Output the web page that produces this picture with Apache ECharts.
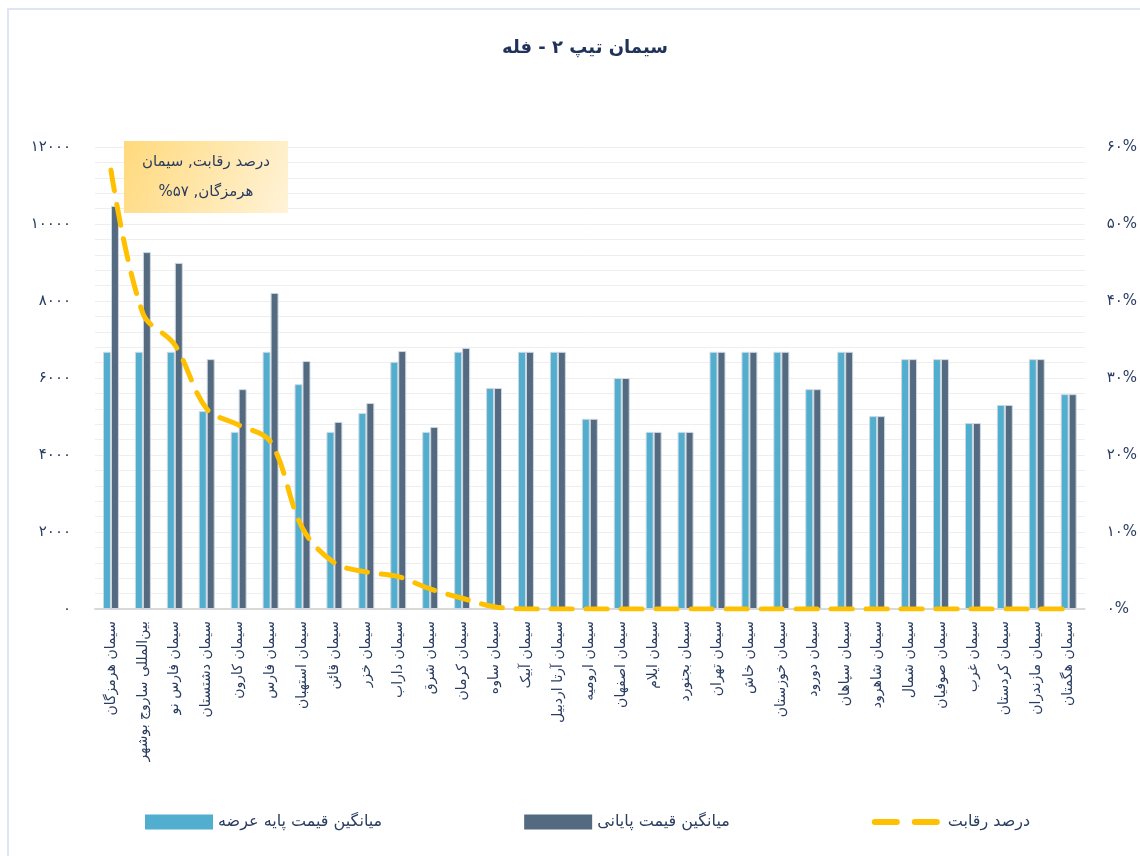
<!DOCTYPE html>
<html>
<head>
<meta charset="utf-8">
<title>سیمان تیپ ۲ - فله</title>
<script src="https://cdn.jsdelivr.net/npm/echarts@6/dist/echarts.min.js"></script>
<style>
	html, body { margin: 0; padding: 0; background: #fff; overflow: hidden; }
	#main { width: 1140px; height: 856px; }
	.frame { position: absolute; left: 7px; top: 8px; width: 1300px; height: 1000px; border: 2px solid #dfe6f3; pointer-events: none; }
</style>
</head>
<body>
<div id="main"></div>
<div class="frame"></div>
<script>
// دسته ها (شرکت ها)
var categories = ['سیمان هرمزگان', 'بین‌المللی ساروج بوشهر', 'سیمان فارس نو', 'سیمان دشتستان', 'سیمان کارون',
	'سیمان فارس', 'سیمان استهبان', 'سیمان قائن', 'سیمان خزر', 'سیمان داراب', 'سیمان شرق', 'سیمان کرمان',
	'سیمان ساوه', 'سیمان آبیک', 'سیمان آرتا اردبیل', 'سیمان ارومیه', 'سیمان اصفهان', 'سیمان ایلام',
	'سیمان بجنورد', 'سیمان تهران', 'سیمان خاش', 'سیمان خوزستان', 'سیمان دورود', 'سیمان سپاهان',
	'سیمان شاهرود', 'سیمان شمال', 'سیمان صوفیان', 'سیمان غرب', 'سیمان کردستان', 'سیمان مازندران', 'سیمان هگمتان'];

// میانگین قیمت پایه عرضه
var basePrice = [6680, 6680, 6680, 5140, 4600, 6680, 5840, 4600, 5090, 6420, 4600, 6680, 5740, 6680, 6680, 4940,
	6000, 4600, 4600, 6680, 6680, 6680, 5710, 6680, 5010, 6490, 6490, 4830, 5300, 6490, 5580];
// میانگین قیمت پایانی
var finalPrice = [10470, 9270, 8990, 6490, 5710, 8210, 6440, 4860, 5350, 6700, 4730, 6780, 5740, 6680, 6680, 4940,
	6000, 4600, 4600, 6680, 6680, 6680, 5710, 6680, 5010, 6490, 6490, 4830, 5300, 6490, 5580];
// درصد رقابت
var competition = [57, 38.4, 34.3, 26, 23.9, 21.7, 10.5, 6, 4.8, 4.2, 2.6, 1.4, 0.3, 0, 0, 0,
	0, 0, 0, 0, 0, 0, 0, 0, 0, 0, 0, 0, 0, 0, 0];

var seriesNames = ['میانگین قیمت پایه عرضه', 'میانگین قیمت پایانی', 'درصد رقابت'];
var titleText = 'سیمان تیپ ۲ - فله';
var noteText = '\u200Fدرصد رقابت, سیمان\u200F\n\u200Fهرمزگان, ۵۷%\u200F';

var navy = '#2a3d61';
var font = 'DejaVu Sans';

function toFa(s) {
	return String(s).replace(/\d/g, function (d) { return '۰۱۲۳۴۵۶۷۸۹'[d]; });
}

function drawChart() {
	var dom = document.getElementById('main');
	var myChart = echarts.init(dom);
	var option = {
		animation: false,
		textStyle: { fontFamily: font },
		title: {
			text: titleText,
			left: 497,
			top: 34,
			textStyle: { fontSize: 18, fontWeight: 'bold', color: '#1f335a', fontFamily: font }
		},
		legend: {
			left: 140,
			top: 809,
			itemWidth: 68,
			itemHeight: 15,
			itemGap: 142,
			textStyle: { fontSize: 16, color: navy, fontFamily: font },
			data: [
				{ name: seriesNames[0], icon: 'rect', itemStyle: { borderWidth: 0 } },
				{ name: seriesNames[1], icon: 'rect', itemStyle: { borderWidth: 0 } },
				{
					name: seriesNames[2],
					itemStyle: { opacity: 0 },
					lineStyle: { color: '#ffc000', width: 6, type: [22, 18], cap: 'round' }
				}
			]
		},
		grid: { left: 95, right: 54, top: 147, bottom: 247 },
		xAxis: {
			type: 'category',
			data: categories,
			axisLine: { lineStyle: { color: '#d9d9d9', width: 2 } },
			axisTick: { show: false },
			axisLabel: { rotate: 90, margin: 12, fontSize: 14, color: navy, interval: 0 }
		},
		yAxis: [{
			type: 'value',
			min: 0,
			max: 12000,
			interval: 2000,
			axisLine: { show: false },
			axisTick: { show: false },
			axisLabel: { margin: 24, fontSize: 15, color: navy, formatter: function (v) { return toFa(v); } },
			splitLine: { lineStyle: { color: '#eeeeee', width: 1 } },
			minorTick: { show: false, splitNumber: 5 },
			minorSplitLine: { show: true, lineStyle: { color: '#eeeeee', width: 1 } }
		}, {
			type: 'value',
			min: 0,
			max: 60,
			interval: 10,
			axisLine: { show: false },
			axisTick: { show: false },
			splitLine: { show: false },
			axisLabel: { margin: 22, fontSize: 15, color: navy, formatter: function (v) { return toFa(v) + '%'; } }
		}],
		series: [{
			name: seriesNames[0],
			type: 'bar',
			data: basePrice,
			barGap: '0%',
			barCategoryGap: '50%',
			itemStyle: { color: '#52aecf', borderColor: '#cfd8e0', borderWidth: 1 },
			emphasis: { disabled: true }
		}, {
			name: seriesNames[1],
			type: 'bar',
			data: finalPrice,
			itemStyle: { color: '#546a80', borderColor: '#cfd8e0', borderWidth: 1 },
			emphasis: { disabled: true }
		}, {
			name: seriesNames[2],
			type: 'line',
			yAxisIndex: 1,
			data: competition,
			smooth: 0.35,
			symbol: 'none',
			z: 5,
			itemStyle: { color: '#ffc000' },
			lineStyle: { color: '#ffc000', width: 5, type: [21, 14], cap: 'round' },
			emphasis: { disabled: true },
			markPoint: {
				symbol: 'circle',
				symbolSize: 1,
				itemStyle: { color: 'rgba(0,0,0,0)' },
				data: [{ coord: [0, competition[0]] }],
				label: {
					show: true,
					position: 'inside',
					offset: [95, 7],
					formatter: noteText,
					width: 144,
					align: 'center',
					verticalAlign: 'middle',
					lineHeight: 30,
					padding: [6, 10],
					fontSize: 15,
					color: navy,
					fontFamily: font,
					backgroundColor: new echarts.graphic.LinearGradient(0, 0, 1, 1, [
						{ offset: 0, color: '#ffd97c' },
						{ offset: 1, color: '#fff3d8' }
					])
				}
			}
		}]
	};
	myChart.setOption(option);
}

drawChart();
</script>
</body>
</html>
